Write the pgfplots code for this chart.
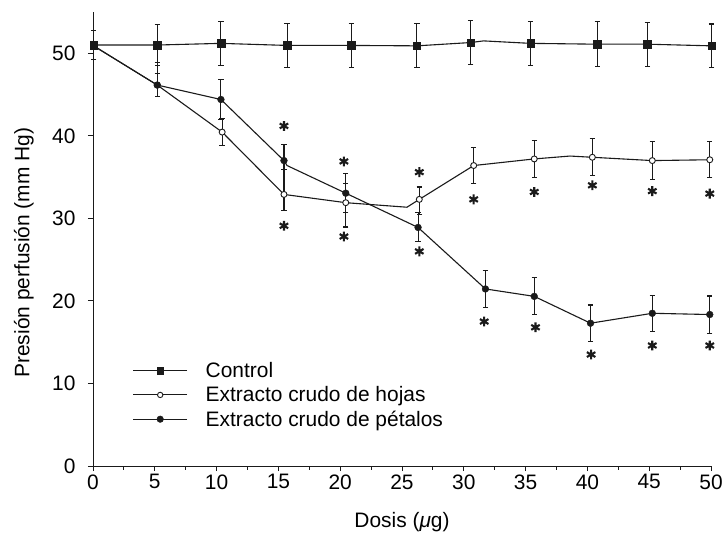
\documentclass[border=0pt]{standalone}
\usepackage{pgfplots}
\pgfplotsset{compat=1.18}
\usepackage{fontspec}
\setmainfont{Liberation Sans}
\definecolor{ink}{HTML}{1A1A1A}

\begin{document}
\begin{tikzpicture}
\useasboundingbox (-93bp,-67bp) rectangle (632bp,466bp);
\begin{axis}[
  at={(0,0)}, anchor=south west,
  scale only axis, width=618bp, height=454bp,
  xmin=0, xmax=50, ymin=0, ymax=55,
  axis lines=left,
  axis line style={-, line width=0.9bp, draw=ink},
  clip=false,
  font=\fontsize{21}{25}\selectfont,
  xtick={0,5,...,50}, ytick={0,10,...,50},
  minor xtick={2.5,7.5,...,47.5},
  tick align=outside, major tick length=5bp, minor tick length=3.5bp,
  every tick/.style={line width=0.9bp, draw=ink},
  /pgf/number format/assume math mode=true,
  yticklabel style={xshift=-9bp},
  xlabel={Dosis (\textit{μ}g)},
  ylabel={Presión perfusión (mm Hg)},
  xlabel style={at={(axis description cs:0.5,-0.123)}, anchor=center},
  ylabel style={at={(axis description cs:-0.112,0.47)}, anchor=center},
  legend style={at={(axis cs:2.95,13.05)}, anchor=north west, draw=none, fill=none,
    font=\fontsize{21}{25}\selectfont, row sep=3.5bp,
    /tikz/every odd column/.append style={column sep=16bp}},
  legend cell align=left,
  error bars/y dir=both, error bars/y explicit,
  error bars/error bar style={line width=1.1bp, draw=ink},
  error bars/error mark options={rotate=90, mark size=2.7bp, line width=1.1bp, draw=ink},
]

% lines (with the small bends of the original drawing)
\addplot[ink, line width=1.1bp, forget plot] coordinates {
  (0.05,51.0) (5.2,51.0) (10.35,51.2) (15.7,50.95) (20.9,50.95) (26.2,50.9)
  (30.55,51.3) (31.6,51.5) (35.4,51.2) (40.8,51.1) (44.85,51.1) (50.05,50.9)};
\addplot[ink, line width=1.1bp, forget plot] coordinates {
  (0.05,50.9) (5.2,46.15) (10.45,40.45) (15.45,32.9) (20.45,31.9) (25.4,31.35)
  (26.4,32.3) (30.8,36.4) (35.7,37.2) (38.6,37.55) (40.4,37.4) (45.25,37.0) (49.9,37.1)};
\addplot[ink, line width=1.1bp, forget plot] coordinates {
  (0.05,50.9) (5.2,46.15) (10.35,44.4) (15.45,37.0) (15.7,36.4) (20.45,33.05)
  (26.3,28.9) (31.75,21.45) (35.7,20.55) (40.25,17.3) (45.25,18.5) (49.9,18.35)};

% Control
\addplot[only marks, mark=square*, mark size=3.8bp, draw=ink, fill=ink,
  legend image code/.code={
    \draw[ink, line width=1.1bp] (0bp,0bp) -- (54bp,0bp);
    \fill[ink] (27bp,0bp) +(-3.3bp,-3.3bp) rectangle +(3.3bp,3.3bp);}]
  coordinates {
  (0.05,51.0) +- (0,1.75)
  (5.2,51.0) +- (0,2.5)
  (10.35,51.2) +- (0,2.65)
  (15.7,50.95) +- (0,2.7)
  (20.9,50.95) +- (0,2.67)
  (26.2,50.9) +- (0,2.67)
  (30.55,51.3) +- (0,2.65)
  (35.4,51.2) +- (0,2.67)
  (40.8,51.1) +- (0,2.7)
  (44.85,51.1) +- (0,2.67)
  (50.05,50.9) +- (0,2.65)};
\addlegendentry{Control}

% Extracto crudo de hojas
\addplot[only marks, mark=*, mark size=3.0bp, draw=ink, fill=white,
  mark options={line width=0.9bp},
  legend image code/.code={
    \draw[ink, line width=1.1bp] (0bp,0bp) -- (54bp,0bp);
    \filldraw[draw=ink, fill=white, line width=0.9bp] (27bp,0bp) circle (2.7bp);}]
  coordinates {
  (5.2,46.15) +- (0,1.4)
  (10.45,40.45) += (0,1.7) -= (0,1.65)
  (15.45,32.9) += (0,3.0) -= (0,1.95)
  (20.45,31.9) += (0,2.3) -= (0,2.95)
  (26.4,32.3) += (0,1.5) -= (0,1.8)
  (30.8,36.4) +- (0,2.2)
  (35.7,37.2) +- (0,2.2)
  (40.4,37.4) +- (0,2.25)
  (45.25,37.0) +- (0,2.3)
  (49.9,37.1) +- (0,2.2)};
\addlegendentry{Extracto crudo de hojas}

% Extracto crudo de petalos
\addplot[only marks, mark=*, mark size=3.4bp, draw=ink, fill=ink,
  legend image code/.code={
    \draw[ink, line width=1.1bp] (0bp,0bp) -- (54bp,0bp);
    \fill[ink] (27bp,0bp) circle (3.3bp);}]
  coordinates {
  (5.2,46.15) += (0,2.75) -= (0,1.35)
  (10.35,44.4) +- (0,2.4)
  (15.45,37.0) += (0,2.0) -= (0,1.1)
  (20.45,33.05) +- (0,2.35)
  (26.3,28.9) += (0,1.8) -= (0,1.75)
  (31.75,21.45) +- (0,2.2)
  (35.7,20.55) +- (0,2.25)
  (40.25,17.3) +- (0,2.2)
  (45.25,18.5) +- (0,2.2)
  (49.9,18.35) +- (0,2.25)};
\addlegendentry{Extracto crudo de pétalos}

% significance asterisks
\addplot[only marks, mark=asterisk, mark size=4.9bp, ink,
  mark options={line width=2.1bp}, forget plot] coordinates {
  (15.45,41.2) (15.45,29.1) (20.3,36.9) (20.3,27.8) (26.4,35.6) (26.4,26.0)
  (30.8,32.3) (31.65,17.5) (35.7,33.2) (35.8,16.8) (40.4,34.0) (40.3,13.5)
  (45.25,33.3) (45.25,14.6) (49.9,33.0) (49.9,14.6)};

\end{axis}
\end{tikzpicture}
\end{document}
